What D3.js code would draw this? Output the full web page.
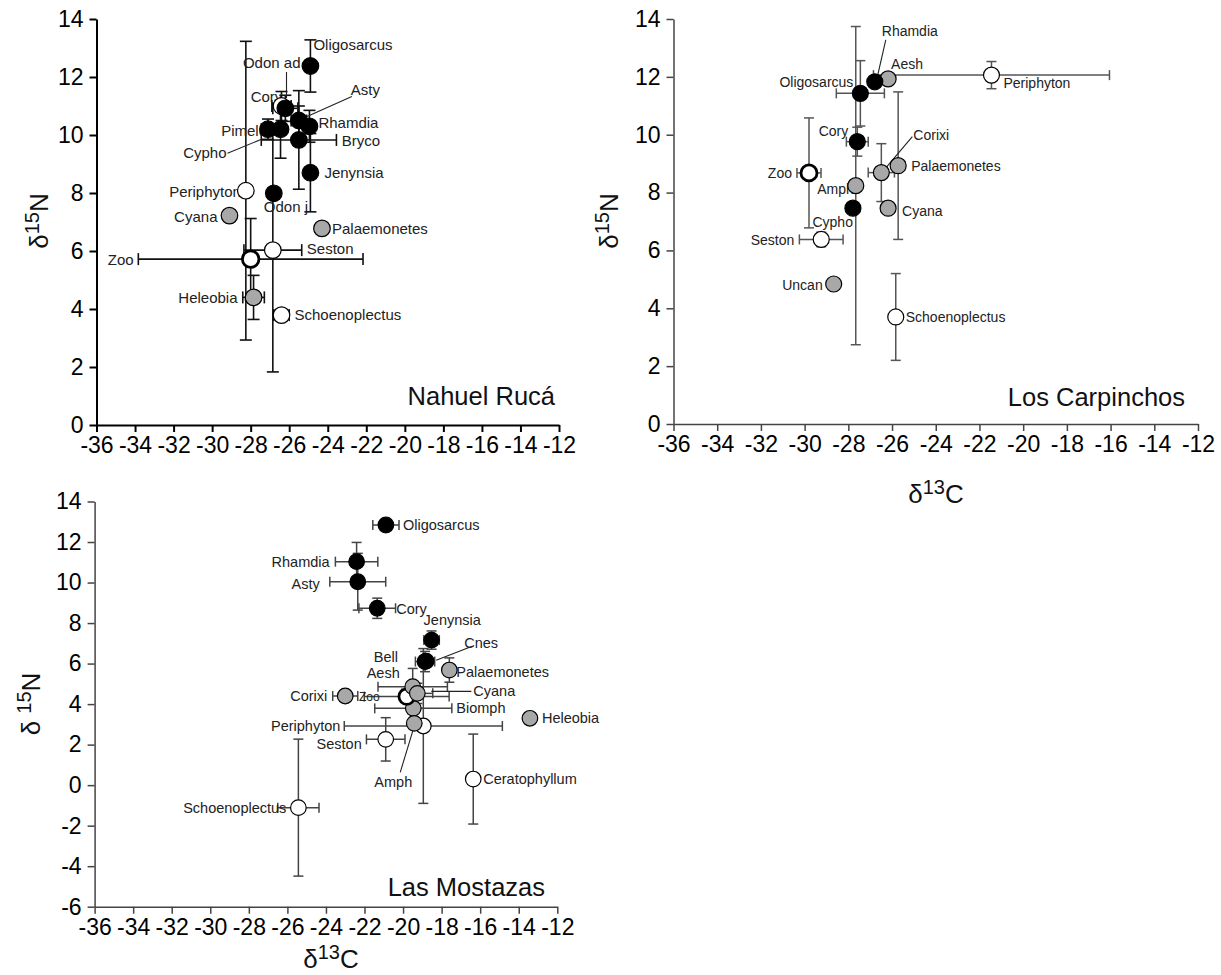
<!DOCTYPE html>
<html>
<head>
<meta charset="utf-8">
<script src="https://cdn.jsdelivr.net/npm/d3@7"></script>
<style>
  body { margin: 0; background: #fff; }
  svg { display: block; font-family: Arial, "Liberation Sans", sans-serif; }
</style>
</head>
<body>
<svg id="chart" width="1221" height="975"></svg>
<script>
// ---- Nahuel Rucá ----
// b = fish (black), g = invertebrates (grey), w = basal sources (white), z = zooplankton
const nrTaxa = ["Periphyton", "Zoo", "Seston", "Heleobia", "Schoenoplectus", "Cyana", "Palaemonetes",
  "Odon ad", "Cory", "Pimelo", "Cypho", "Asty", "Rhamdia", "Bryco", "Oligosarcus", "Jenynsia", "Odon j"];
const nrC   = [-28.25, -28.0, -26.85, -27.85, -26.4, -29.1, -24.3, -26.4, -26.2, -27.1, -26.45, -25.5, -24.95, -25.5, -24.9, -24.9, -26.8];
const nrN   = [8.08, 5.72, 6.03, 4.4, 3.79, 7.22, 6.78, 11.0, 10.92, 10.2, 10.2, 10.5, 10.3, 9.83, 12.38, 8.7, 7.99];
const nrCsd = [0, 5.83, 1.5, 0.56, 0.4, 0, 0.15, 0.5, 0.65, 0.35, 0.3, 0.4, 0.25, 1.95, 0, 0, 0];
const nrNsd = [5.15, 1.4, 4.2, 0.76, 0.15, 0, 0.15, 0.5, 0.45, 0.35, 1.0, 0.5, 0.55, 1.7, 0.9, 1.35, 0];
const nrType = ["w", "z", "w", "g", "w", "g", "g", "w", "b", "b", "b", "b", "b", "b", "b", "b", "b"];

// ---- Los Carpinchos ----
const lcTaxa = ["Amph", "Palaemonetes", "Periphyton", "Zoo", "Seston", "Schoenoplectus", "Uncan", "Cyana",
  "Corixi", "Cypho", "Cory", "Oligosarcus", "Aesh", "Rhamdia"];
const lcC   = [-27.66, -25.72, -21.45, -29.8, -29.24, -25.83, -28.67, -26.18, -26.49, -27.79, -27.59, -27.45, -26.18, -26.79];
const lcN   = [8.24, 8.93, 12.06, 8.68, 6.38, 3.7, 4.84, 7.46, 8.69, 7.46, 9.76, 11.43, 11.93, 11.83];
const lcCsd = [0, 0.3, 5.4, 0.55, 1.0, 0.1, 0, 0, 0.6, 0, 0.5, 1.1, 0, 0];
const lcNsd = [5.5, 2.55, 0.47, 1.9, 0.25, 1.5, 0, 0, 1.0, 0, 0.5, 1.13, 0, 0];
const lcType = ["g", "g", "w", "z", "w", "w", "g", "g", "g", "b", "b", "b", "g", "b"];

// ---- Las Mostazas ----
const lmTaxa = ["Periphyton", "Schoenoplectus", "Ceratophyllum", "Seston", "Biomph", "Zoo", "Aesh", "Cyana",
  "Amph", "Corixi", "Heleobia", "Palaemonetes", "Cnes", "Bell", "Jenynsia", "Cory", "Asty", "Rhamdia", "Oligosarcus"];
const lmC   = [-18.95, -25.43, -16.36, -20.9, -19.47, -19.81, -19.5, -19.26, -19.42, -23.0, -13.42, -17.6, -18.8, -18.86, -18.52, -21.34, -22.35, -22.41, -20.89];
const lmN   = [2.92, -1.11, 0.3, 2.26, 3.79, 4.37, 4.86, 4.53, 3.05, 4.4, 3.3, 5.68, 6.12, 6.1, 7.16, 8.73, 10.04, 11.03, 12.84];
const lmCsd = [4.1, 1.07, 0, 1.0, 2.0, 2.2, 1.8, 0.8, 0, 0.65, 0, 0.3, 0, 0.5, 0.4, 0.95, 1.45, 1.1, 0.68];
const lmNsd = [3.82, 3.38, 2.22, 1.07, 0, 0.3, 0.9, 0.5, 0.3, 0, 0, 0.6, 0, 0.5, 0.45, 0.5, 1.4, 0.95, 0];
const lmType = ["w", "w", "w", "w", "g", "z", "g", "g", "g", "g", "g", "g", "b", "b", "b", "b", "b", "b", "b"];

const xTicks = d3.range(-36, -11, 2);

// label placement: [dx, dy, anchor, leader line (relative to point), font size]
const nrLabels = {
  "Oligosarcus": [3, -16, "start"], "Odon ad": [19, -38, "end", [5, -34, 5, -8]],
  "Cory": [-3, -6, "end"], "Asty": [52, -26, "start", [53, -24, 6, -3]],
  "Rhamdia": [9, 2, "start"], "Pimelo": [-1, 7, "end"],
  "Cypho": [-54, 29, "end", [-53, 24, -19, 10]], "Bryco": [43, 6, "start"],
  "Jenynsia": [14, 5, "start"], "Periphyton": [-5, 6, "end"], "Odon j": [-10, 19, "start"],
  "Cyana": [-12, 6, "end"], "Palaemonetes": [10, 6, "start"], "Seston": [34, 4, "start"],
  "Zoo": [-117, 6, "end"], "Heleobia": [-16, 6, "end"], "Schoenoplectus": [13, 5, "start"]
};
const lcLabels = {
  "Rhamdia": [7, -46, "start", [11, -42, 3, -7]], "Aesh": [3, -10, "start"],
  "Periphyton": [12, 13, "start"], "Oligosarcus": [-7, -6, "end"], "Cory": [-9, -6, "end"],
  "Corixi": [32, -33, "start", [31, -36, 3, -3]], "Palaemonetes": [13, 5, "start"],
  "Zoo": [-17, 5, "end"], "Amph": [-2, 8, "end"], "Cypho": [0, 19, "end"],
  "Cyana": [14, 8, "start"], "Seston": [-27, 6, "end"], "Uncan": [-11, 6, "end"],
  "Schoenoplectus": [10, 5, "start"]
};
const lmLabels = {
  "Oligosarcus": [17, 5, "start"], "Rhamdia": [-27, 5, "end"], "Asty": [-38, 7, "end"],
  "Cory": [19, 6, "start"], "Jenynsia": [-8, -15, "start"],
  "Cnes": [38, -13, "start", [46, -15, 10, -1]], "Bell": [-27, 0, "end"], "Aesh": [-13, -9, "end"],
  "Palaemonetes": [7, 7, "start"], "Cyana": [56, 3, "start", [14, -2, 54, -2]],
  "Zoo": [-27, 4, "end", null, 12], "Corixi": [-18, 5, "end"], "Biomph": [43, 5, "start"],
  "Heleobia": [12, 5, "start"], "Periphyton": [-83, 5, "end"], "Seston": [-24, 10, "end"],
  "Amph": [-2, 64, "end", [-14, 49, -1, 6]], "Ceratophyllum": [10, 5, "start"],
  "Schoenoplectus": [-12, 5, "end"]
};

const svg = d3.select("#chart");
const fills = { b: "#000", g: "#a8a8a8", w: "#fff", z: "#fff" };

function drawPanel(p) {
  const x = d3.scaleLinear().domain([-36, -12]).range(p.xr);
  const y = d3.scaleLinear().domain(p.yd).range(p.yr);
  const g = svg.append("g");

  const ax = g.append("g")
    .attr("transform", `translate(0,${p.yr[0]})`)
    .call(d3.axisBottom(x).tickValues(xTicks).tickSize(7).tickSizeOuter(0).tickPadding(5));
  const ay = g.append("g")
    .attr("transform", `translate(${p.xr[0]},0)`)
    .call(d3.axisLeft(y).tickValues(d3.range(p.yd[0], p.yd[1] + 1, 2)).tickSize(7).tickSizeOuter(0).tickPadding(6));
  [ax, ay].forEach(a => {
    a.attr("font-family", null).attr("font-size", 23);
    a.selectAll("path,line").attr("stroke", p.axisColor).attr("stroke-width", p.axisW);
    a.selectAll("text").attr("fill", "#000").text(d => String(d));
  });

  const data = p.taxa.map((t, i) => ({ t, c: p.C[i], n: p.N[i], cs: p.Csd[i], ns: p.Nsd[i], k: p.type[i] }));
  const cap = p.cap;
  const eb = g.append("g").attr("stroke", p.errColor).attr("stroke-width", p.errW).attr("fill", "none");
  data.forEach(d => {
    const px = x(d.c), py = y(d.n);
    if (d.cs > 0) {
      const a = x(d.c - d.cs), b = x(d.c + d.cs);
      eb.append("line").attr("x1", a).attr("x2", b).attr("y1", py).attr("y2", py);
      [a, b].forEach(v => eb.append("line").attr("x1", v).attr("x2", v).attr("y1", py - cap).attr("y2", py + cap));
    }
    if (d.ns > 0) {
      const a = y(d.n - d.ns), b = y(d.n + d.ns);
      eb.append("line").attr("x1", px).attr("x2", px).attr("y1", a).attr("y2", b);
      [a, b].forEach(v => eb.append("line").attr("y1", v).attr("y2", v).attr("x1", px - cap).attr("x2", px + cap));
    }
  });

  // labels and leader lines
  data.forEach(d => {
    const l = p.labels[d.t];
    if (!l) return;
    const px = x(d.c), py = y(d.n);
    if (l[3]) {
      g.append("line")
        .attr("x1", px + l[3][0]).attr("y1", py + l[3][1])
        .attr("x2", px + l[3][2]).attr("y2", py + l[3][3])
        .attr("stroke", "#222").attr("stroke-width", 1.1);
    }
    g.append("text")
      .attr("x", px + l[0]).attr("y", py + l[1])
      .attr("text-anchor", l[2])
      .attr("font-size", l[4] || p.labelSize)
      .attr("fill", "#222")
      .text(d.t);
  });

  g.selectAll("circle.pt").data(data).join("circle")
    .attr("class", "pt")
    .attr("cx", d => x(d.c)).attr("cy", d => y(d.n))
    .attr("r", p.r)
    .attr("fill", d => fills[d.k])
    .attr("stroke", "#000")
    .attr("stroke-width", d => d.k === "z" ? 2.8 : 1.2);

  g.append("text")
    .attr("x", p.title[1]).attr("y", p.title[2])
    .attr("text-anchor", "end").attr("font-size", 25.5).attr("fill", "#111")
    .text(p.title[0]);
}

function deltaTitle(x, y, rot, sup, letter, gap) {
  const t = svg.append("text")
    .attr("transform", `translate(${x},${y}) rotate(${rot})`)
    .attr("text-anchor", "middle").attr("font-size", 26).attr("fill", "#111");
  t.append("tspan").text("δ" + (gap ? " " : ""));
  t.append("tspan").attr("font-size", 20).attr("dy", -9).text(sup);
  t.append("tspan").attr("dy", 9).text(letter);
}

drawPanel({
  taxa: nrTaxa, C: nrC, N: nrN, Csd: nrCsd, Nsd: nrNsd, type: nrType, labels: nrLabels,
  xr: [96.5, 559], yd: [0, 14], yr: [425, 19],
  axisColor: "#000", axisW: 2, errColor: "#111", errW: 1.6, cap: 6, r: 8.3, labelSize: 15,
  title: ["Nahuel Rucá", 555, 405]
});
drawPanel({
  taxa: lcTaxa, C: lcC, N: lcN, Csd: lcCsd, Nsd: lcNsd, type: lcType, labels: lcLabels,
  xr: [673.5, 1198], yd: [0, 14], yr: [424, 19],
  axisColor: "#444", axisW: 1.5, errColor: "#555", errW: 1.5, cap: 5, r: 8, labelSize: 14,
  title: ["Los Carpinchos", 1185, 406]
});
drawPanel({
  taxa: lmTaxa, C: lmC, N: lmN, Csd: lmCsd, Nsd: lmNsd, type: lmType, labels: lmLabels,
  xr: [94.6, 557.3], yd: [-6, 14], yr: [906.7, 501.5],
  axisColor: "#444", axisW: 1.5, errColor: "#444", errW: 1.5, cap: 5, r: 7.8, labelSize: 14.5,
  title: ["Las Mostazas", 545, 896]
});

deltaTitle(48, 221, -90, "15", "N", false);
deltaTitle(618, 221, -90, "15", "N", false);
deltaTitle(40, 704, -90, "15", "N", true);
deltaTitle(936, 503, 0, "13", "C", false);
deltaTitle(331, 968, 0, "13", "C", false);
</script>
</body>
</html>
